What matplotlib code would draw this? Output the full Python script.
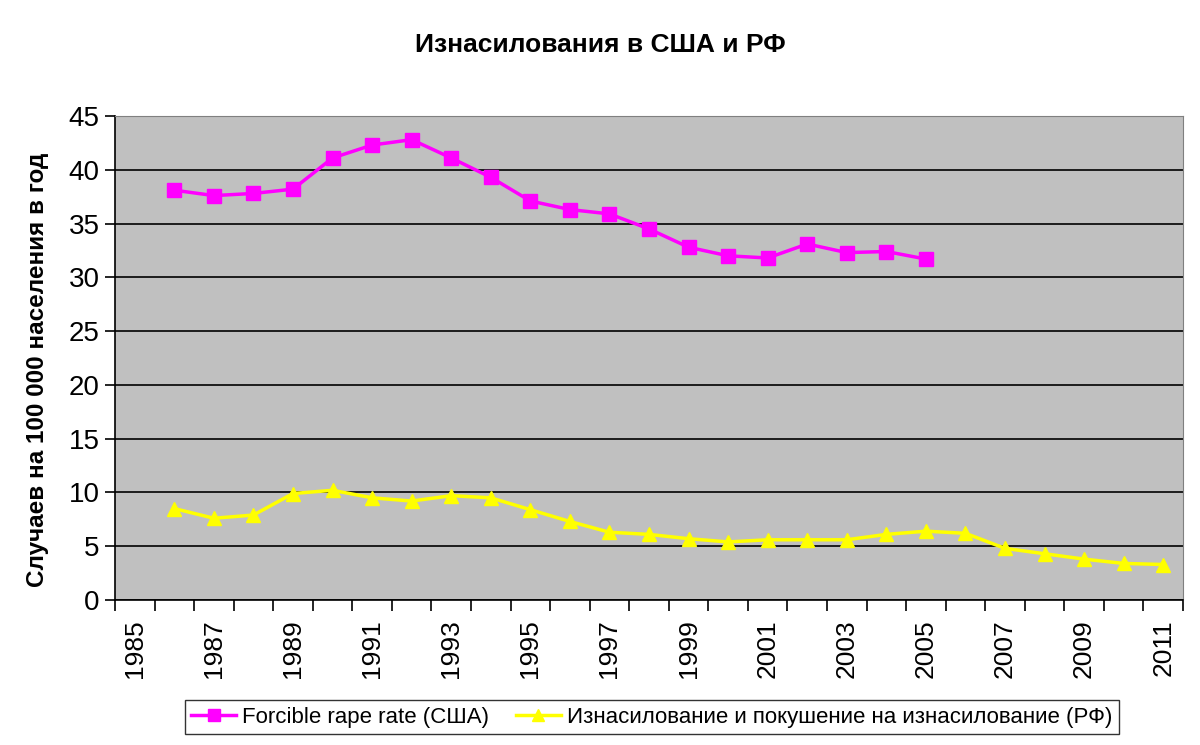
import numpy as np
import matplotlib.pyplot as plt

plt.rcParams['font.family'] = ['Liberation Sans', 'DejaVu Sans']

# Годы (категории оси X)
years = list(range(1985, 2012))

# США: 1986-2005
us_years = list(range(1986, 2006))
us_rate = [38.1, 37.6, 37.8, 38.2, 41.1, 42.3, 42.8, 41.1, 39.3, 37.1,
           36.3, 35.9, 34.5, 32.8, 32.0, 31.8, 33.1, 32.3, 32.4, 31.7]

# РФ: 1986-2011
ru_years = list(range(1986, 2012))
ru_rate = [8.5, 7.6, 7.9, 9.9, 10.2, 9.5, 9.2, 9.7, 9.5, 8.4,
           7.3, 6.3, 6.1, 5.7, 5.4, 5.6, 5.6, 5.6, 6.1, 6.4,
           6.2, 4.8, 4.3, 3.8, 3.4, 3.3]

fig = plt.figure(figsize=(12, 7.45), dpi=100)
ax = fig.add_axes([115/1200, 1-600/745, (1183-115)/1200, (600-116)/745])
ax.set_facecolor('#C0C0C0')

us_x = [y - 1985 for y in us_years]
ru_x = [y - 1985 for y in ru_years]
ax.plot(us_x, us_rate, color='#FF00FF', lw=2.5, marker='s', ms=9.5,
        label='Forcible rape rate (США)', zorder=3)
ax.plot(ru_x, ru_rate, color='#FFFF00', lw=2.5, marker='^', ms=10.5,
        label='Изнасилование и покушение на изнасилование (РФ)', zorder=3)

ax.set_xlim(-0.5, len(years) - 0.5)
ax.set_ylim(0, 45)
ax.set_yticks(np.arange(0, 46, 5))
ax.yaxis.grid(True, color='black', lw=1.2)
ax.set_axisbelow(True)

ax.set_xticks(np.arange(-0.5, len(years), 1), minor=True)
ax.set_xticks(np.arange(0, len(years), 2))
ax.set_xticklabels([str(y) for y in years[::2]], rotation=90)
ax.tick_params(axis='x', which='major', length=0, labelsize=19, pad=14)
ax.tick_params(axis='x', which='minor', length=8, width=1.2, color='black', direction='out')
ax.tick_params(axis='y', length=7, width=1.2, labelsize=20, direction='out', pad=4)

for s in ['top', 'right']:
    ax.spines[s].set_color('#808080')
ax.spines['left'].set_linewidth(1.2)
ax.spines['bottom'].set_linewidth(1.2)

fig.text(38/1200, 1 - 370/745, 'Случаев на 100 000 населения в год', rotation=90,
         ha='center', va='center', fontsize=17.5, fontweight='bold')
fig.text(0.5, 1 - 45/745, 'Изнасилования в США и РФ', ha='center', va='center',
         fontsize=19, fontweight='bold')

leg = fig.legend(loc='center', bbox_to_anchor=(652/1200, 1 - 717/745), ncol=2,
                 fontsize=16, frameon=True, fancybox=False, edgecolor='black',
                 handlelength=2.0, handletextpad=0.3, columnspacing=1.2,
                 borderpad=0.3, markerscale=0.85)
leg.get_frame().set_linewidth(1.0)

fig.savefig('out.png', dpi=100)
